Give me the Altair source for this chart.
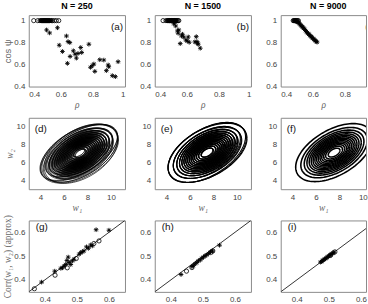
import numpy as np
import pandas as pd
import altair as alt

# ---------------- data ----------------
# Row 1: cos(psi) versus rho
a_star_x = [0.475, 0.482, 0.49, 0.497, 0.505, 0.512, 0.52, 0.53, 0.54,
            0.511, 0.53, 0.579, 0.635, 0.645, 0.656, 0.59, 0.61, 0.724, 0.73, 0.678,
            0.689, 0.707, 0.658, 0.697, 0.641, 0.775, 0.806, 0.796, 0.785, 0.812,
            0.843, 0.868, 0.884, 0.895, 0.899, 0.921, 0.94, 0.957]
a_star_y = [1.0, 1.0, 1.0, 1.0, 1.0, 1.0, 1.0, 1.0, 1.0,
            0.915, 0.888, 0.935, 0.86, 0.809, 0.80, 0.776, 0.719, 0.755, 0.71, 0.725,
            0.695, 0.701, 0.674, 0.659, 0.611, 0.785, 0.605, 0.59, 0.575, 0.538,
            0.644, 0.641, 0.545, 0.596, 0.58, 0.499, 0.49, 0.626]
a_circ_x = [0.431, 0.456, 0.47, 0.478, 0.485, 0.49, 0.495, 0.5, 0.505, 0.51, 0.515,
            0.52, 0.525, 0.53, 0.54, 0.548, 0.56, 0.572, 0.587]

b_star_x = [0.48, 0.486, 0.492, 0.498, 0.504, 0.51, 0.516, 0.522, 0.528, 0.534,
            0.519, 0.525, 0.531, 0.542, 0.546, 0.55, 0.559, 0.567, 0.573, 0.581,
            0.594, 0.602, 0.609, 0.615, 0.65, 0.659, 0.663, 0.667, 0.671, 0.684]
b_star_y = [1.0, 1.0, 1.0, 1.0, 1.0, 1.0, 1.0, 1.0, 1.0, 1.0,
            0.971, 0.987, 0.951, 0.906, 0.885, 0.915, 0.791, 0.86, 0.876, 0.851,
            0.824, 0.815, 0.851, 0.803, 0.806, 0.854, 0.809, 0.794, 0.785, 0.749]
b_circ_x = [0.452, 0.47, 0.478, 0.484, 0.49, 0.494, 0.498, 0.502, 0.506, 0.51, 0.514,
            0.518, 0.522, 0.526, 0.53, 0.535, 0.54, 0.545, 0.55]

c_star_x = [0.482, 0.487, 0.493, 0.498, 0.503, 0.508, 0.513, 0.518, 0.524, 0.529,
            0.534, 0.539, 0.544, 0.55, 0.555, 0.56, 0.565, 0.57, 0.575, 0.58,
            0.586, 0.591, 0.596, 0.601, 0.606, 0.612, 0.617, 0.622, 0.627]
c_star_y = [1.0, 0.998, 0.996, 0.993, 0.99, 0.985, 0.98, 0.97, 0.96, 0.953,
            0.945, 0.938, 0.93, 0.92, 0.909, 0.9, 0.891, 0.883, 0.876, 0.868,
            0.861, 0.853, 0.846, 0.838, 0.831, 0.823, 0.816, 0.81, 0.804]
c_circ_x = [0.478, 0.484, 0.49, 0.495, 0.5, 0.505, 0.51]

# Row 2: Gaussian contour parameters (mean x, mean y, sd x, sd y, correlation)
contour_levels = [0.0625, 0.125, 0.1875, 0.25, 0.3125, 0.375, 0.4375, 0.5,
                  0.5625, 0.625, 0.6875, 0.75, 0.8125, 0.875, 0.9375]
d_params = [(7.35, 7.05, 1.37, 1.38, 0.50),
            (7.25, 7.10, 1.40, 1.35, 0.56),
            (7.45, 6.98, 1.33, 1.41, 0.45),
            (7.30, 7.12, 1.39, 1.33, 0.59),
            (7.42, 7.00, 1.35, 1.37, 0.53),
            (7.33, 6.95, 1.41, 1.39, 0.48)]
e_params = [(7.47, 7.10, 1.42, 1.42, 0.50),
            (7.44, 7.12, 1.40, 1.43, 0.52),
            (7.50, 7.08, 1.43, 1.40, 0.49)]
f_params = [(7.55, 7.10, 1.39, 1.38, 0.50)]

# Row 3: approximate vs exact correlation
g_star_x = [0.39, 0.431, 0.45, 0.455, 0.46, 0.465, 0.469, 0.473, 0.476, 0.481, 0.486,
            0.491, 0.507, 0.512, 0.517, 0.522, 0.53, 0.536, 0.543, 0.548, 0.56, 0.60]
g_star_y = [0.391, 0.437, 0.449, 0.451, 0.458, 0.465, 0.482, 0.496, 0.473, 0.465, 0.48,
            0.487, 0.508, 0.515, 0.518, 0.522, 0.539, 0.533, 0.547, 0.543, 0.611, 0.609]
g_circ_x = [0.3675, 0.432, 0.47, 0.498, 0.553, 0.569]
g_circ_y = [0.363, 0.42, 0.451, 0.49, 0.553, 0.564]

h_star_x = [0.432, 0.466, 0.471, 0.476, 0.481, 0.486, 0.492, 0.497, 0.502, 0.507,
            0.512, 0.518, 0.524, 0.53, 0.552]
h_star_y = [0.423, 0.456, 0.461, 0.468, 0.473, 0.48, 0.484, 0.491, 0.496, 0.501,
            0.505, 0.511, 0.518, 0.522, 0.546]
h_circ_x = [0.449, 0.466, 0.526, 0.531]
h_circ_y = [0.437, 0.452, 0.516, 0.522]

i_star_x = [0.474, 0.477, 0.48, 0.483, 0.486, 0.489, 0.492, 0.495, 0.498, 0.501,
            0.504, 0.507, 0.51, 0.513, 0.516]
i_star_y = [0.475, 0.477, 0.481, 0.483, 0.487, 0.489, 0.493, 0.495, 0.499, 0.501,
            0.505, 0.507, 0.511, 0.513, 0.516]
i_circ_x = [0.505, 0.519]
i_circ_y = [0.503, 0.518]

diag = [0.35, 0.65]

titles = ["N = 250", "N = 1500", "N = 9000"]

# ---------------- style ----------------
W, H = 97, 72
WC = 86            # right column is cut off by the picture's edge
FRAC_C = WC / W
ASTERISK = "M-1,0L1,0M0,-1L0,1M-0.7,-0.7L0.7,0.7M-0.7,0.7L0.7,-0.7"
SANS = "Liberation Sans"
SERIF = "Liberation Serif"
LABEL_COLOR = "#444444"
TITLE_COLOR = "#666666"


def cut(dom, col):
    if col < 2:
        return dom
    return [dom[0], dom[0] + (dom[1] - dom[0]) * FRAC_C]


def enc_xy(xdom, ydom, xvals, yvals, fmt, xtitle, ytitle, xstyle, ystyle, ytfont):
    x = alt.X("x:Q", scale=alt.Scale(domain=xdom, nice=False, zero=False),
              axis=alt.Axis(values=xvals, format=fmt, title=xtitle,
                            titleFont=SERIF, titleFontStyle=xstyle,
                            titleFontSize=9.5, titleColor=TITLE_COLOR,
                            titlePadding=1, titleFontWeight="normal"))
    y = alt.Y("y:Q", scale=alt.Scale(domain=ydom, nice=False, zero=False),
              axis=alt.Axis(values=yvals, format=fmt, title=ytitle,
                            titleFont=ytfont, titleFontStyle=ystyle,
                            titleFontSize=9.5, titleColor=TITLE_COLOR,
                            titlePadding=1, titleFontWeight="normal"))
    return x, y


def label_layer(text, xpos, ypos, align):
    return alt.Chart(pd.DataFrame({"t": [text]})).mark_text(
        align=align, baseline="middle", fontSize=10, font=SANS, color="#111111", clip=True
    ).encode(x=alt.value(xpos), y=alt.value(ypos), text="t:N")


def scatter_panel(sx, sy, cx, cy, x, y, label, lx, ly, lalign, width, extra=None, title=None,
                  tdx=0):
    layers = []
    if extra is not None:
        layers.append(extra)
    layers.append(alt.Chart(pd.DataFrame({"x": sx, "y": sy})).mark_point(
        shape=ASTERISK, size=22, stroke="black", strokeWidth=0.9, filled=False, opacity=1,
        clip=True
    ).encode(x=x, y=y))
    layers.append(alt.Chart(pd.DataFrame({"x": cx, "y": cy})).mark_point(
        shape="circle", size=18, stroke="black", strokeWidth=0.8, filled=False, opacity=1,
        clip=True
    ).encode(x=x, y=y))
    layers.append(label_layer(label, lx, ly, lalign))
    ch = alt.layer(*layers).properties(width=width, height=H)
    if title is not None:
        ch = ch.properties(title=alt.Title(title, fontSize=9, font=SANS, fontWeight="bold",
                                           color="black", offset=4, dx=tdx))
    return ch


def ellipse_frame(params):
    rows = []
    t = np.linspace(0, 2 * np.pi, 121)
    for ri, (mx, my, sdx, sdy, rho) in enumerate(params):
        cov = np.array([[sdx ** 2, rho * sdx * sdy], [rho * sdx * sdy, sdy ** 2]])
        L = np.linalg.cholesky(cov)
        for li, lev in enumerate(contour_levels):
            r = np.sqrt(-2 * np.log(lev))
            pts = r * (L @ np.vstack([np.cos(t), np.sin(t)]))
            for j in range(len(t)):
                rows.append({"x": mx + pts[0, j], "y": my + pts[1, j],
                             "id": f"{ri}-{li}", "i": j})
    return pd.DataFrame(rows)


def contour_panel(params, sw, x, y, label, width):
    lines = alt.Chart(ellipse_frame(params)).mark_line(
        color="black", strokeWidth=sw, clip=True
    ).encode(x=x, y=y, detail="id:N", order="i:Q")
    return alt.layer(lines, label_layer(label, 6, 11, "left")).properties(width=width, height=H)


# ---------------- panels ----------------
r1 = dict(xdom=[0.4, 1.0], ydom=[0.4, 1.05], xvals=[0.4, 0.6, 0.8, 1.0],
          yvals=[0.4, 0.6, 0.8, 1.0], fmt=".1~f", xtitle="ρ", xstyle="italic", ystyle="normal",
          ytfont=SANS)
r2 = dict(xdom=[3, 11.2], ydom=[3, 11], xvals=[4, 6, 8, 10], yvals=[4, 6, 8, 10], fmt="d",
          xtitle="w₁", xstyle="italic", ystyle="italic", ytfont=SERIF)
r3 = dict(xdom=[0.35, 0.65], ydom=[0.35, 0.65], xvals=[0.4, 0.5, 0.6],
          yvals=[0.4, 0.5, 0.6], fmt=".1f", xtitle=None, xstyle="normal",
          ystyle="normal", ytfont=SERIF)

panels = []
# row 1
for col, (sx, sy, cx, lab) in enumerate([
        (a_star_x, a_star_y, a_circ_x, "(a)"),
        (b_star_x, b_star_y, b_circ_x, "(b)"),
        (c_star_x, c_star_y, c_circ_x, "(c)")]):
    x, y = enc_xy(cut(r1["xdom"], col), r1["ydom"], r1["xvals"], r1["yvals"], r1["fmt"],
                  r1["xtitle"], "cos ψ" if col == 0 else None, r1["xstyle"], r1["ystyle"],
                  r1["ytfont"])
    panels.append(scatter_panel(sx, sy, cx, [1.0] * len(cx), x, y, lab,
                                97 if col == 2 else 95, 12, "right",
                                WC if col == 2 else W, title=titles[col],
                                tdx=5 if col == 2 else 0))
# row 2
for col, (params, sw, lab) in enumerate([(d_params, 0.7, "(d)"), (e_params, 1.1, "(e)"),
                                         (f_params, 1.6, "(f)")]):
    x, y = enc_xy(cut(r2["xdom"], col), r2["ydom"], r2["xvals"], r2["yvals"], r2["fmt"],
                  r2["xtitle"], "w₂" if col == 0 else None, r2["xstyle"], r2["ystyle"],
                  r2["ytfont"])
    panels.append(contour_panel(params, sw, x, y, lab, WC if col == 2 else W))
# row 3
for col, (sx, sy, cx, cy, lab) in enumerate([
        (g_star_x, g_star_y, g_circ_x, g_circ_y, "(g)"),
        (h_star_x, h_star_y, h_circ_x, h_circ_y, "(h)"),
        (i_star_x, i_star_y, i_circ_x, i_circ_y, "(i)")]):
    x, y = enc_xy(cut(r3["xdom"], col), r3["ydom"], r3["xvals"], r3["yvals"], r3["fmt"],
                  r3["xtitle"], "Corr(w₁, w₂) (approx)" if col == 0 else None, r3["xstyle"],
                  r3["ystyle"], r3["ytfont"])
    diag_line = alt.Chart(pd.DataFrame({"x": diag, "y": diag})).mark_line(
        color="black", strokeWidth=0.8, clip=True).encode(x=x, y=y)
    panels.append(scatter_panel(sx, sy, cx, cy, x, y, lab, 7, 7, "left",
                                WC if col == 2 else W, extra=diag_line))

chart = alt.concat(*panels, columns=3, spacing={"row": 31.5, "column": 30},
                   bounds="flush").properties(
    padding={"left": 2, "top": 0, "right": 0, "bottom": 0}
).configure_view(
    stroke="#8a8a8a", strokeWidth=1
).configure_axis(
    grid=False, domain=False, ticks=False, labelFont=SANS, labelFontSize=8,
    labelColor=LABEL_COLOR, labelPadding=4
)

chart.save("out.html", embed_options={"renderer": "svg", "actions": False})
